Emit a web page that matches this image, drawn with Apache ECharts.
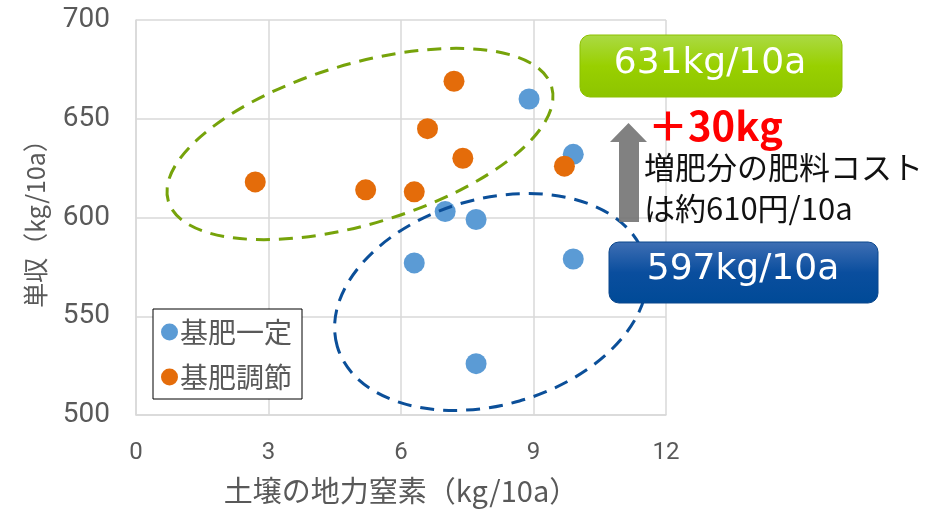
<!DOCTYPE html>
<html>
<head>
<meta charset="utf-8">
<script src="https://cdn.jsdelivr.net/npm/echarts@6/dist/echarts.min.js"></script>
<style>
  html, body { margin: 0; padding: 0; background: #fff; }
  #main { width: 942px; height: 512px; }
</style>
</head>
<body>
<div id="main"></div>
<script>
// 基肥一定 / 基肥調節
const seriesNames = ['基肥一定', '基肥調節']
const xConst = [8.9, 9.9, 7.0, 7.7, 6.3, 9.9, 7.7]
const yConst = [660, 632, 603, 599, 577, 579, 526]
const xAdj = [2.7, 5.2, 6.3, 6.6, 7.2, 7.4, 9.7]
const yAdj = [618, 614, 613, 645, 669, 630, 626]
const xTicks = [0, 3, 6, 9, 12]
const yTicks = [500, 550, 600, 650, 700]
const boxLabels = ['631kg/10a', '597kg/10a']
const diffLabel = '＋30kg'
const noteLines = ['増肥分の肥料コスト', 'は約610円/10a']

const gray = '#595959'
const cjk = '"Noto Sans CJK JP", sans-serif'
const latin = '"DejaVu Sans", "Noto Sans CJK JP", sans-serif'

function pairs(xs, ys) {
  return xs.map((x, i) => [x, ys[i]])
}

const chart = echarts.init(document.getElementById('main'), null, { renderer: 'canvas' })

let option = {
  animation: false,
  backgroundColor: '#fff',
  textStyle: { fontFamily: cjk },
  grid: {
    left: 136,
    right: 276,
    top: 20,
    bottom: 97,
    containLabel: false,
    outerBoundsMode: 'none'
  },
  legend: {
    orient: 'vertical',
    left: 153,
    top: 309,
    icon: 'circle',
    itemWidth: 17,
    itemHeight: 17,
    itemGap: 17,
    padding: [9, 10, 8, 8],
    borderColor: '#000',
    borderWidth: 1,
    backgroundColor: '#fff',
    textStyle: { fontSize: 28, color: gray, fontFamily: cjk, padding: [0, 0, 0, -3] },
    data: seriesNames
  },
  xAxis: {
    type: 'value',
    min: xTicks[0],
    max: xTicks[xTicks.length - 1],
    interval: 3,
    name: '土壌の地力窒素（kg/10a）',
    nameLocation: 'middle',
    nameGap: 61,
    nameTextStyle: { fontSize: 29, color: gray, fontFamily: cjk },
    axisLine: { lineStyle: { color: '#D9D9D9', width: 1.5 } },
    axisTick: { show: false },
    axisLabel: { fontSize: 24, color: gray, margin: 26, fontFamily: 'Roboto, sans-serif' },
    splitLine: { lineStyle: { color: '#D9D9D9', width: 1.5 } }
  },
  yAxis: {
    type: 'value',
    min: yTicks[0],
    max: yTicks[yTicks.length - 1],
    interval: 50,
    name: '単収（kg/10a）',
    nameLocation: 'middle',
    nameGap: 88,
    nameTextStyle: { fontSize: 25, color: gray, fontFamily: cjk },
    axisLine: { show: true, lineStyle: { color: '#D9D9D9', width: 1.5 } },
    axisTick: { show: false },
    axisLabel: { fontSize: 28, color: gray, margin: 26, fontFamily: 'Roboto, sans-serif' },
    splitLine: { lineStyle: { color: '#D9D9D9', width: 1.5 } }
  },
  series: [{
    name: seriesNames[0],
    type: 'scatter',
    symbolSize: 21,
    itemStyle: { color: '#5B9BD5', opacity: 1 },
    data: pairs(xConst, yConst)
  }, {
    name: seriesNames[1],
    type: 'scatter',
    symbolSize: 21,
    itemStyle: { color: '#E46C0A', opacity: 1 },
    data: pairs(xAdj, yAdj)
  }],
  graphic: [
    // groups
    {
      type: 'ellipse', x: 360, y: 144, rotation: 0.29, z: 50,
      shape: { cx: 0, cy: 0, rx: 200, ry: 80 },
      style: { fill: 'none', stroke: '#76A30A', lineWidth: 3, lineDash: [14, 9] }
    },
    {
      type: 'ellipse', x: 491, y: 302, rotation: 0.28, z: 50,
      shape: { cx: 0, cy: 0, rx: 160, ry: 103 },
      style: { fill: 'none', stroke: '#0B4F99', lineWidth: 3, lineDash: [14, 9] }
    },
    // arrow
    {
      type: 'polygon', z: 55,
      shape: { points: [[628.5, 123], [647, 142], [639, 142], [639, 222], [619, 222], [619, 142], [610, 142]] },
      style: { fill: 'rgba(115,115,115,0.9)' }
    },
    // boxes
    {
      type: 'rect', z: 60,
      shape: { x: 580, y: 35, width: 262, height: 62, r: 10 },
      style: {
        fill: { type: 'linear', x: 0, y: 0, x2: 0, y2: 1, colorStops: [{ offset: 0, color: '#ABDA45' }, { offset: 0.5, color: '#99D000' }, { offset: 1, color: '#8DC400' }] },
        stroke: '#8CC000', lineWidth: 1
      }
    },
    {
      type: 'text', z: 61,
      style: { text: boxLabels[0], x: 710, y: 64, fill: '#fff', font: '36px ' + latin, align: 'center', verticalAlign: 'middle', textAlign: 'center', textVerticalAlign: 'middle' }
    },
    {
      type: 'rect', z: 60,
      shape: { x: 609, y: 242, width: 269, height: 61, r: 10 },
      style: {
        fill: { type: 'linear', x: 0, y: 0, x2: 0, y2: 1, colorStops: [{ offset: 0, color: '#3F6FB4' }, { offset: 0.5, color: '#0A4E9E' }, { offset: 1, color: '#004A97' }] },
        stroke: '#0A468C', lineWidth: 1
      }
    },
    {
      type: 'text', z: 61,
      style: { text: boxLabels[1], x: 743, y: 270, fill: '#fff', font: '36px ' + latin, align: 'center', verticalAlign: 'middle', textAlign: 'center', textVerticalAlign: 'middle' }
    },
    {
      type: 'text', z: 61,
      style: { text: diffLabel, x: 648, y: 126, fill: '#FF0000', font: 'bold 40px ' + cjk, align: 'left', verticalAlign: 'middle', textAlign: 'left', textVerticalAlign: 'middle' }
    },
    {
      type: 'text', z: 61,
      style: { text: noteLines[0], x: 644, y: 167, fill: '#111', font: '31px ' + cjk, align: 'left', verticalAlign: 'middle', textAlign: 'left', textVerticalAlign: 'middle' }
    },
    {
      type: 'text', z: 61,
      style: { text: noteLines[1], x: 644, y: 208, fill: '#111', font: '31px ' + cjk, align: 'left', verticalAlign: 'middle', textAlign: 'left', textVerticalAlign: 'middle' }
    }
  ]
}

chart.setOption(option)
</script>
</body>
</html>
